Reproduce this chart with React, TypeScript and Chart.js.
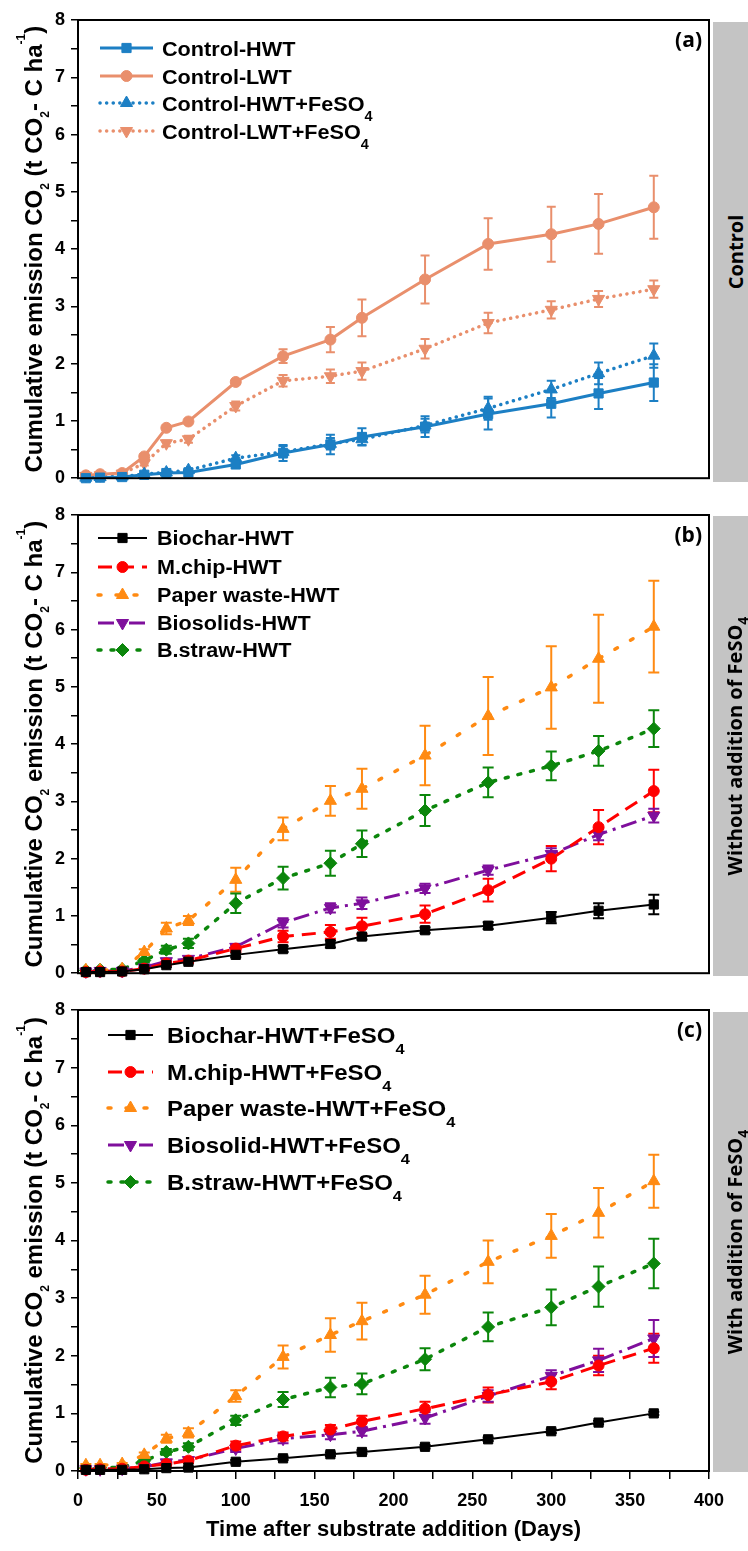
import React, { useEffect, useRef } from 'react';
import { Chart, registerables } from 'chart.js';

Chart.register(...registerables);

// ---------- data ----------
const days = [5, 14, 28, 42, 56, 70, 100, 130, 160, 180, 220, 260, 300, 330, 365];
const xTickLabels = [0, 50, 100, 150, 200, 250, 300, 350, 400];
const yTickLabels = [0, 1, 2, 3, 4, 5, 6, 7, 8];

// (a) controls
const controlHWT = [0.0, 0.01, 0.02, 0.06, 0.09, 0.1, 0.24, 0.44, 0.59, 0.72, 0.9, 1.12, 1.3, 1.48, 1.67];
const controlHWTErr = [0.01, 0.01, 0.01, 0.02, 0.03, 0.04, 0.06, 0.14, 0.17, 0.15, 0.18, 0.27, 0.24, 0.27, 0.32];
const controlLWT = [0.05, 0.07, 0.09, 0.38, 0.88, 0.99, 1.68, 2.13, 2.42, 2.8, 3.47, 4.09, 4.26, 4.44, 4.73];
const controlLWTErr = [0.01, 0.01, 0.01, 0.04, 0.04, 0.03, 0.04, 0.12, 0.22, 0.32, 0.42, 0.45, 0.48, 0.52, 0.55];
const controlHWTFe = [0.01, 0.02, 0.03, 0.07, 0.1, 0.14, 0.35, 0.46, 0.6, 0.68, 0.92, 1.22, 1.55, 1.83, 2.14];
const controlHWTFeErr = [0.01, 0.01, 0.01, 0.02, 0.02, 0.03, 0.05, 0.1, 0.1, 0.1, 0.12, 0.2, 0.15, 0.19, 0.21];
const controlLWTFe = [0.04, 0.05, 0.08, 0.26, 0.61, 0.68, 1.26, 1.7, 1.78, 1.87, 2.26, 2.71, 2.94, 3.13, 3.3];
const controlLWTFeErr = [0.01, 0.01, 0.01, 0.04, 0.05, 0.06, 0.08, 0.1, 0.12, 0.15, 0.17, 0.18, 0.15, 0.14, 0.15];

// (b) without FeSO4
const biochar = [0.02, 0.02, 0.03, 0.07, 0.14, 0.2, 0.32, 0.42, 0.51, 0.64, 0.75, 0.83, 0.97, 1.09, 1.2];
const biocharErr = [0.01, 0.01, 0.01, 0.02, 0.03, 0.03, 0.04, 0.05, 0.06, 0.05, 0.05, 0.06, 0.1, 0.13, 0.17];
const mchip = [0.02, 0.03, 0.03, 0.08, 0.17, 0.22, 0.43, 0.64, 0.72, 0.82, 1.03, 1.45, 2.0, 2.55, 3.18];
const mchipErr = [0.01, 0.01, 0.01, 0.02, 0.03, 0.04, 0.06, 0.1, 0.12, 0.15, 0.15, 0.2, 0.22, 0.3, 0.37];
const paper = [0.05, 0.05, 0.07, 0.37, 0.78, 0.92, 1.63, 2.52, 3.01, 3.22, 3.8, 4.49, 4.99, 5.49, 6.05];
const paperErr = [0.01, 0.01, 0.01, 0.05, 0.1, 0.08, 0.21, 0.2, 0.26, 0.35, 0.52, 0.68, 0.72, 0.77, 0.8];
const biosolids = [0.03, 0.04, 0.04, 0.1, 0.21, 0.25, 0.46, 0.88, 1.14, 1.22, 1.48, 1.8, 2.08, 2.42, 2.75];
const biosolidsErr = [0.01, 0.01, 0.01, 0.02, 0.03, 0.03, 0.05, 0.08, 0.08, 0.1, 0.08, 0.08, 0.1, 0.1, 0.12];
const bstraw = [0.05, 0.06, 0.07, 0.22, 0.41, 0.52, 1.22, 1.66, 1.92, 2.26, 2.84, 3.33, 3.62, 3.88, 4.27];
const bstrawErr = [0.01, 0.01, 0.01, 0.03, 0.07, 0.08, 0.17, 0.2, 0.22, 0.23, 0.27, 0.26, 0.25, 0.26, 0.32];

// (c) with FeSO4
const biocharFe = [0.02, 0.02, 0.02, 0.03, 0.05, 0.06, 0.16, 0.22, 0.29, 0.33, 0.42, 0.55, 0.69, 0.84, 1.0];
const biocharFeErr = [0.01, 0.01, 0.01, 0.01, 0.01, 0.02, 0.03, 0.03, 0.03, 0.03, 0.03, 0.03, 0.03, 0.03, 0.03];
const mchipFe = [0.02, 0.03, 0.04, 0.08, 0.12, 0.18, 0.44, 0.6, 0.72, 0.86, 1.08, 1.32, 1.55, 1.83, 2.13];
const mchipFeErr = [0.01, 0.01, 0.01, 0.02, 0.03, 0.04, 0.07, 0.07, 0.08, 0.1, 0.12, 0.13, 0.13, 0.17, 0.25];
const paperFe = [0.1, 0.1, 0.12, 0.28, 0.56, 0.66, 1.3, 1.98, 2.36, 2.6, 3.06, 3.63, 4.08, 4.48, 5.03];
const paperFeErr = [0.02, 0.02, 0.02, 0.04, 0.07, 0.08, 0.1, 0.2, 0.29, 0.32, 0.33, 0.37, 0.38, 0.43, 0.46];
const biosolidFe = [0.03, 0.03, 0.04, 0.07, 0.15, 0.19, 0.39, 0.56, 0.63, 0.69, 0.92, 1.3, 1.65, 1.92, 2.3];
const biosolidFeErr = [0.01, 0.01, 0.01, 0.02, 0.03, 0.03, 0.06, 0.08, 0.08, 0.08, 0.1, 0.1, 0.1, 0.2, 0.32];
const bstrawFe = [0.05, 0.06, 0.06, 0.18, 0.33, 0.42, 0.88, 1.24, 1.45, 1.51, 1.94, 2.5, 2.84, 3.2, 3.6];
const bstrawFeErr = [0.01, 0.01, 0.01, 0.03, 0.05, 0.06, 0.08, 0.13, 0.17, 0.18, 0.19, 0.25, 0.31, 0.35, 0.43];

// text
const labelsA = ['Control-HWT', 'Control-LWT', 'Control-HWT+FeSO₄', 'Control-LWT+FeSO₄'];
const labelsB = ['Biochar-HWT', 'M.chip-HWT', 'Paper waste-HWT', 'Biosolids-HWT', 'B.straw-HWT'];
const labelsC = ['Biochar-HWT+FeSO₄', 'M.chip-HWT+FeSO₄', 'Paper waste-HWT+FeSO₄', 'Biosolid-HWT+FeSO₄', 'B.straw-HWT+FeSO₄'];
const yTitles = [
  'Cumulative emission CO₂ (t CO₂- C ha⁻¹)',
  'Cumulative CO₂ emission (t CO₂- C ha⁻¹)',
  'Cumulative CO₂ emission (t CO₂- C ha⁻¹)',
];
const stripTitles = ['Control', 'Without addition of FeSO₄', 'With addition of FeSO₄'];
const panelLetters = ['(a)', '(b)', '(c)'];
const xTitle = 'Time after substrate addition (Days)';

// ---------- styles ----------
const FONT = '"Liberation Sans", Arial, Helvetica, sans-serif';
const BLUE = '#1c7fc4';
const SALMON = '#e98f6c';
const BLACK = '#000000';
const RED = '#ff0000';
const ORANGE = '#ff8a12';
const PURPLE = '#7f0f9c';
const GREEN = '#0b860b';

type St = { color: string; width: number; dash: number[]; cap: CanvasLineCap; point: string; rot: number; r: number };
const solid = (color: string, width: number, point: string, r: number, rot = 0): St => ({ color, width, dash: [], cap: 'butt', point, rot, r });

const stylesA: St[] = [
  solid(BLUE, 3, 'rect', 6.5),
  solid(SALMON, 3, 'circle', 5.5),
  { color: BLUE, width: 3.5, dash: [0.1, 6.5], cap: 'round', point: 'triangle', rot: 0, r: 7 },
  { color: SALMON, width: 3.5, dash: [0.1, 6.5], cap: 'round', point: 'triangle', rot: 180, r: 7 },
];
const stylesBC: St[] = [
  solid(BLACK, 2, 'rect', 6.5),
  { color: RED, width: 3, dash: [14, 8], cap: 'butt', point: 'circle', rot: 0, r: 5.5 },
  { color: ORANGE, width: 3.5, dash: [3, 15], cap: 'round', point: 'triangle', rot: 0, r: 7 },
  { color: PURPLE, width: 3, dash: [16, 6, 3, 6], cap: 'butt', point: 'triangle', rot: 180, r: 7 },
  { color: GREEN, width: 3.5, dash: [3, 10], cap: 'round', point: 'rectRot', r: 6.5, rot: 0 },
];

// ---------- rich text helpers ----------
const SUB: Record<string, string> = { '₀': '0', '₁': '1', '₂': '2', '₃': '3', '₄': '4' };
const SUP: Record<string, string> = { '⁻': '-', '¹': '1' };
type Seg = { t: string; k: string; w?: number };
function parseRich(s: string): Seg[] {
  const segs: Seg[] = [];
  for (const ch of Array.from(s)) {
    let k = 'n';
    let t = ch;
    if (SUB[ch]) { k = 'sub'; t = SUB[ch]; } else if (SUP[ch]) { k = 'sup'; t = SUP[ch]; }
    const last = segs[segs.length - 1];
    if (last && last.k === k) last.t += t; else segs.push({ t, k });
  }
  return segs;
}
function drawRich(ctx: CanvasRenderingContext2D, s: string, x: number, y: number, size: number, align: string,
  subScale: number, subDrop: number, supRise: number, sx = 1) {
  const segs = parseRich(s);
  const fN = `bold ${size}px ${FONT}`;
  const fS = `bold ${Math.round(size * subScale)}px ${FONT}`;
  let total = 0;
  for (const sg of segs) {
    ctx.font = sg.k === 'n' ? fN : fS;
    sg.w = ctx.measureText(sg.t).width;
    total += sg.w;
  }
  ctx.save();
  ctx.translate(x, y);
  ctx.scale(sx, 1);
  let cx = align === 'center' ? -total / 2 : 0;
  ctx.textAlign = 'left';
  ctx.textBaseline = 'alphabetic';
  for (const sg of segs) {
    ctx.font = sg.k === 'n' ? fN : fS;
    const dy = sg.k === 'sub' ? size * subDrop : sg.k === 'sup' ? -size * supRise : 0;
    ctx.fillText(sg.t, cx, dy);
    cx += sg.w || 0;
  }
  ctx.restore();
}
function drawMarker(ctx: CanvasRenderingContext2D, style: string, x: number, y: number, r: number, rot: number, color: string) {
  ctx.save();
  ctx.fillStyle = color;
  ctx.strokeStyle = color;
  ctx.lineWidth = 1;
  ctx.setLineDash([]);
  ctx.translate(x, y);
  ctx.rotate((rot * Math.PI) / 180);
  ctx.beginPath();
  if (style === 'rect') {
    const s = r * Math.SQRT1_2;
    ctx.rect(-s, -s, 2 * s, 2 * s);
  } else if (style === 'circle') {
    ctx.arc(0, 0, r, 0, Math.PI * 2);
  } else if (style === 'triangle') {
    let a = 0;
    ctx.moveTo(Math.sin(a) * r, -Math.cos(a) * r);
    a += (2 * Math.PI) / 3;
    ctx.lineTo(Math.sin(a) * r, -Math.cos(a) * r);
    a += (2 * Math.PI) / 3;
    ctx.lineTo(Math.sin(a) * r, -Math.cos(a) * r);
    ctx.closePath();
  } else if (style === 'rectRot') {
    ctx.moveTo(-r, 0); ctx.lineTo(0, -r); ctx.lineTo(r, 0); ctx.lineTo(0, r); ctx.closePath();
  }
  ctx.fill();
  ctx.stroke();
  ctx.restore();
}

// ---------- plugin ----------
const decorPlugin = {
  id: 'decor',
  beforeDatasetsDraw(chart: any, _args: any, o: any) {
    const ctx: CanvasRenderingContext2D = chart.ctx;
    const ys = chart.scales.y;
    chart.data.datasets.forEach((d: any, i: number) => {
      const meta = chart.getDatasetMeta(i);
      ctx.save();
      ctx.strokeStyle = d.borderColor;
      ctx.lineWidth = o.errWidth;
      ctx.setLineDash([]);
      meta.data.forEach((el: any, j: number) => {
        const e = d.errors[j];
        const v = d.data[j].y;
        const y1 = ys.getPixelForValue(v + e);
        const y2 = ys.getPixelForValue(v - e);
        if (y2 - y1 < 2) return;
        const x = el.x;
        ctx.beginPath();
        ctx.moveTo(x, y1); ctx.lineTo(x, y2);
        ctx.moveTo(x - o.cap, y1); ctx.lineTo(x + o.cap, y1);
        ctx.moveTo(x - o.cap, y2); ctx.lineTo(x + o.cap, y2);
        ctx.stroke();
      });
      ctx.restore();
    });
  },
  afterDraw(chart: any, _args: any, o: any) {
    const ctx: CanvasRenderingContext2D = chart.ctx;
    const ca = chart.chartArea;
    ctx.save();
    ctx.setLineDash([]);
    ctx.strokeStyle = '#000';
    ctx.lineWidth = 2;
    ctx.strokeRect(ca.left, ca.top, ca.right - ca.left, ca.bottom - ca.top);
    // panel letter
    ctx.fillStyle = '#000';
    ctx.font = 'bold 21px "Open Sans", sans-serif';
    ctx.textAlign = 'right';
    ctx.textBaseline = 'alphabetic';
    ctx.fillText(o.letter, ca.right - 7, ca.top + 27);
    // y title
    ctx.save();
    ctx.translate(o.titleX, (ca.top + ca.bottom) / 2);
    ctx.rotate(-Math.PI / 2);
    ctx.fillStyle = '#000';
    drawRich(ctx, o.yTitle, 0, 0, 24, 'center', 0.52, 0.28, 0.72);
    ctx.restore();
    // legend
    const L = o.legend;
    chart.data.datasets.forEach((d: any, i: number) => {
      const y = ca.top + L.rows[i];
      ctx.save();
      ctx.strokeStyle = d.borderColor;
      ctx.lineWidth = d.borderWidth;
      ctx.lineCap = d.borderCapStyle;
      ctx.setLineDash(d.borderDash);
      ctx.beginPath();
      ctx.moveTo(L.x1, y);
      ctx.lineTo(L.x2, y);
      ctx.stroke();
      ctx.restore();
      drawMarker(ctx, d.pointStyle, (L.x1 + L.x2) / 2, y, d.pointRadius, d.pointRotation, d.borderColor);
      ctx.fillStyle = '#000';
      drawRich(ctx, d.label, L.textX, y + L.size * 0.358, L.size, 'left', 0.66, 0.52, 0.6, L.sx);
    });
    ctx.restore();
  },
};

// ---------- chart builder ----------
function makeDataset(label: string, values: number[], errors: number[], st: St) {
  return {
    label,
    data: days.map((d, i) => ({ x: d, y: values[i] })),
    errors,
    borderColor: st.color,
    backgroundColor: st.color,
    borderWidth: st.width,
    borderDash: st.dash,
    borderCapStyle: st.cap,
    pointStyle: st.point,
    pointRotation: st.rot,
    pointRadius: st.r,
    pointHoverRadius: st.r,
    pointBackgroundColor: st.color,
    pointBorderColor: st.color,
    pointBorderWidth: 1,
    tension: 0,
    fill: false,
    clip: false,
  };
}

type PanelCfg = {
  datasets: any[];
  showX: boolean;
  height: number;
  letter: string;
  yTitle: string;
  legend: { x1: number; x2: number; textX: number; rows: number[]; size: number; sx: number };
  cap: number;
};

const tickFont = { family: FONT, size: 18, weight: 'bold' as const };

function makeConfig(p: PanelCfg): any {
  const xHeight = p.showX ? p.height - 481 : p.height - 480;
  return {
    type: 'line',
    data: { datasets: p.datasets },
    options: {
      responsive: false,
      animation: false,
      devicePixelRatio: 1,
      layout: { padding: { top: 20, right: 39, left: 0, bottom: 0 } },
      plugins: {
        legend: { display: false },
        tooltip: { enabled: false },
        decor: { letter: p.letter, yTitle: p.yTitle, legend: p.legend, titleX: 42, cap: p.cap, errWidth: 2 },
      },
      scales: {
        x: {
          type: 'linear',
          min: xTickLabels[0],
          max: xTickLabels[xTickLabels.length - 1],
          afterFit: (s: any) => { s.height = xHeight; },
          border: { display: false },
          grid: p.showX
            ? { drawOnChartArea: false, drawTicks: true, tickLength: 8, color: '#000', lineWidth: 1.5 }
            : { display: false },
          ticks: p.showX
            ? {
                stepSize: 25,
                autoSkip: false,
                maxRotation: 0,
                padding: 11,
                color: '#000',
                font: tickFont,
                callback: (v: number) => (xTickLabels.includes(v) ? String(v) : ''),
              }
            : { display: false },
          title: p.showX
            ? { display: true, text: xTitle, color: '#000', font: { family: FONT, size: 22, weight: 'bold' }, padding: { top: 0, bottom: 8 } }
            : { display: false },
        },
        y: {
          type: 'linear',
          min: yTickLabels[0],
          max: yTickLabels[yTickLabels.length - 1],
          afterFit: (s: any) => { s.width = 78; },
          border: { display: false },
          grid: { drawOnChartArea: false, drawTicks: true, tickLength: 7, color: '#000', lineWidth: 1.5 },
          ticks: {
            stepSize: 0.5,
            autoSkip: false,
            padding: 6,
            color: '#000',
            font: tickFont,
            callback: (v: number) => (yTickLabels.includes(v) ? String(v) : ''),
          },
          title: { display: false },
        },
      },
    },
    plugins: [decorPlugin],
  };
}

const panels: { top: number; cfg: PanelCfg }[] = [
  {
    top: 0,
    cfg: {
      datasets: [
        makeDataset(labelsA[0], controlHWT, controlHWTErr, stylesA[0]),
        makeDataset(labelsA[1], controlLWT, controlLWTErr, stylesA[1]),
        makeDataset(labelsA[2], controlHWTFe, controlHWTFeErr, stylesA[2]),
        makeDataset(labelsA[3], controlLWTFe, controlLWTFeErr, stylesA[3]),
      ],
      showX: false,
      height: 495,
      letter: panelLetters[0],
      yTitle: yTitles[0],
      legend: { x1: 100, x2: 153, textX: 162, rows: [28, 56, 83, 111], size: 21, sx: 1.03 },
      cap: 4.5,
    },
  },
  {
    top: 495,
    cfg: {
      datasets: [
        makeDataset(labelsB[0], biochar, biocharErr, stylesBC[0]),
        makeDataset(labelsB[1], mchip, mchipErr, stylesBC[1]),
        makeDataset(labelsB[2], paper, paperErr, stylesBC[2]),
        makeDataset(labelsB[3], biosolids, biosolidsErr, stylesBC[3]),
        makeDataset(labelsB[4], bstraw, bstrawErr, stylesBC[4]),
      ],
      showX: false,
      height: 495,
      letter: panelLetters[1],
      yTitle: yTitles[1],
      legend: { x1: 98, x2: 147, textX: 157, rows: [23, 52, 80, 108, 135], size: 20, sx: 1.08 },
      cap: 5.5,
    },
  },
  {
    top: 990,
    cfg: {
      datasets: [
        makeDataset(labelsC[0], biocharFe, biocharFeErr, stylesBC[0]),
        makeDataset(labelsC[1], mchipFe, mchipFeErr, stylesBC[1]),
        makeDataset(labelsC[2], paperFe, paperFeErr, stylesBC[2]),
        makeDataset(labelsC[3], biosolidFe, biosolidFeErr, stylesBC[3]),
        makeDataset(labelsC[4], bstrawFe, bstrawFeErr, stylesBC[4]),
      ],
      showX: true,
      height: 561,
      letter: panelLetters[2],
      yTitle: yTitles[2],
      legend: { x1: 108, x2: 153, textX: 167, rows: [25, 62, 98, 135, 172], size: 22, sx: 1.09 },
      cap: 5.5,
    },
  },
];

const strips = [
  { top: 22, text: stripTitles[0] },
  { top: 516, text: stripTitles[1] },
  { top: 1012, text: stripTitles[2] },
];

function Panel({ top, cfg }: { top: number; cfg: PanelCfg }) {
  const ref = useRef<HTMLCanvasElement>(null);
  useEffect(() => {
    const chart = new Chart(ref.current as HTMLCanvasElement, makeConfig(cfg));
    return () => chart.destroy();
  }, []);
  return (
    <canvas
      ref={ref}
      width={748}
      height={cfg.height}
      style={{ position: 'absolute', left: 0, top, width: 748, height: cfg.height, display: 'block' }}
    />
  );
}

function StripText({ text }: { text: string }) {
  const parts = parseRich(text);
  return (
    <span>
      {parts.map((p, i) =>
        p.k === 'sub' ? (
          <span key={i} style={{ fontSize: '0.7em', position: 'relative', top: '0.45em' }}>{p.t}</span>
        ) : (
          <span key={i}>{p.t}</span>
        ),
      )}
    </span>
  );
}

export default function App() {
  return (
    <div
      style={{
        position: 'absolute',
        left: 0,
        top: 0,
        width: 748,
        height: 1551,
        overflow: 'hidden',
        background: '#ffffff',
      }}
    >
      {panels.map((p, i) => (
        <Panel key={i} top={p.top} cfg={p.cfg} />
      ))}
      {strips.map((s, i) => (
        <div
          key={i}
          style={{
            position: 'absolute',
            left: 713,
            top: s.top,
            width: 40,
            height: 460,
            background: '#c4c4c4',
          }}
        >
          <div
            style={{
              position: 'absolute',
              left: 'calc(50% + 3px)',
              top: '50%',
              transform: 'translate(-50%, -50%) rotate(-90deg)',
              whiteSpace: 'nowrap',
              fontFamily: '"Open Sans", sans-serif',
              fontWeight: 700,
              fontSize: 20,
              lineHeight: '20px',
              color: '#000',
            }}
          >
            <StripText text={s.text} />
          </div>
        </div>
      ))}
    </div>
  );
}
